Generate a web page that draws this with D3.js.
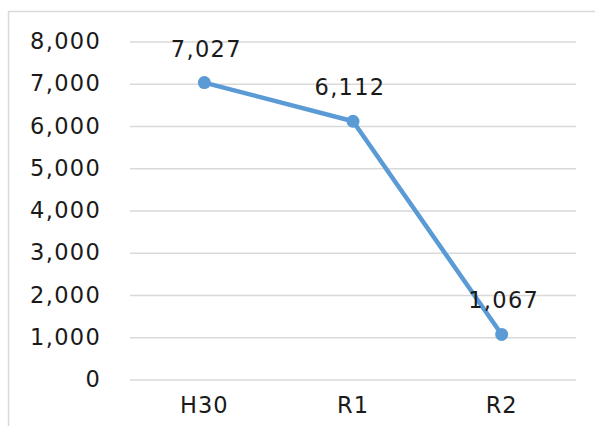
<!DOCTYPE html>
<html><head><meta charset="utf-8">
<script src="https://cdn.jsdelivr.net/npm/d3@7"></script>
<style>body{margin:0;background:#fff}svg{display:block}</style>
</head><body>
<svg id="c" width="595" height="426"></svg>
<script>
const categories = ["H30", "R1", "R2"];
const values = [7027, 6112, 1067];
const yTicks = [0, 1000, 2000, 3000, 4000, 5000, 6000, 7000, 8000];

const svg = d3.select("#c");
const font = "'DejaVu Sans', sans-serif";
svg.append("rect").attr("x", 8.5).attr("y", 11.5).attr("width", 600).attr("height", 430)
  .attr("fill", "#fff").attr("stroke", "#d9d9d9").attr("stroke-width", 1.5);

const m = {l: 130, r: 576, t: 41.5, b: 379.5};
const x = d3.scaleBand().domain(categories).range([m.l, m.r]);
const y = d3.scaleLinear().domain([0, 8000]).range([m.b, m.t]);
const fmt = d3.format(",");

const yAxis = svg.append("g").attr("transform", `translate(${m.l},0)`)
  .call(d3.axisLeft(y).tickValues(yTicks).tickFormat(fmt).tickSize(-(m.r - m.l)).tickPadding(29));
yAxis.select(".domain").remove();
yAxis.selectAll(".tick line").attr("stroke", "#d9d9d9").attr("stroke-width", 1.3);
yAxis.selectAll(".tick text").attr("font-family", font).attr("font-size", 22.5)
  .attr("letter-spacing", 1.3).attr("fill", "#1a1a1a");

const xAxis = svg.append("g").attr("transform", `translate(0,${m.b})`)
  .call(d3.axisBottom(x).tickSize(0).tickPadding(18));
xAxis.select(".domain").remove();
xAxis.selectAll(".tick text").attr("font-family", font).attr("font-size", 22.5)
  .attr("letter-spacing", 1).attr("fill", "#1a1a1a");

const cx = d => x(d) + x.bandwidth() / 2;
const line = d3.line().x((d, i) => cx(categories[i])).y(d => y(d));
svg.append("path").datum(values).attr("d", line).attr("fill", "none")
  .attr("stroke", "#5B9BD5").attr("stroke-width", 4.5).attr("stroke-linejoin", "round");
svg.selectAll("circle.pt").data(values).enter().append("circle")
  .attr("cx", (d, i) => cx(categories[i])).attr("cy", d => y(d)).attr("r", 6.5).attr("fill", "#5B9BD5");
svg.selectAll("text.lbl").data(values).enter().append("text")
  .attr("x", (d, i) => cx(categories[i]) + (i === 1 ? -3 : 2)).attr("y", d => y(d) - 26)
  .attr("text-anchor", "middle").attr("font-family", font).attr("font-size", 22.5)
  .attr("letter-spacing", 1.3).attr("fill", "#1a1a1a")
  .text(d => fmt(d));
</script>
</body></html>
